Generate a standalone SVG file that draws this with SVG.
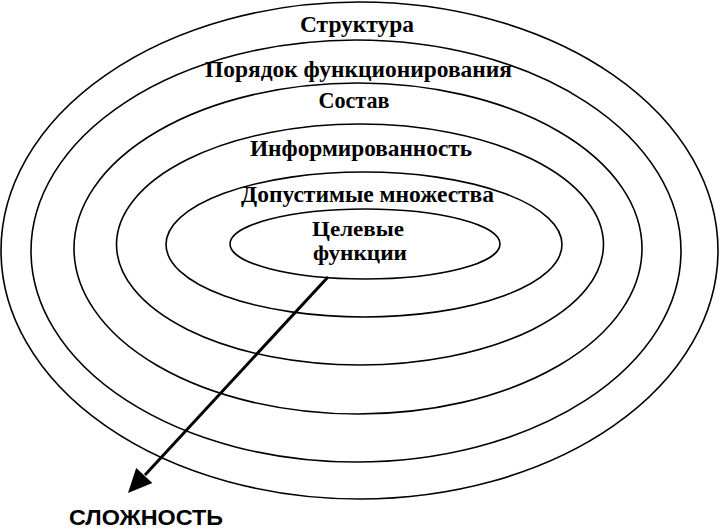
<svg xmlns="http://www.w3.org/2000/svg" width="720" height="530" viewBox="0 0 720 530">
<style>
.ring{fill:none;stroke:#000;stroke-width:1.6}
.lbl{font-family:"Liberation Serif","Times New Roman",serif;font-weight:bold;font-size:23.5px;fill:#000;text-anchor:middle}
.in{font-size:21.5px}
.axis{font-family:"Liberation Sans",Arial,sans-serif;font-weight:bold;font-size:22px;fill:#000}
</style>
<rect width="720" height="530" fill="#fff"/>
<g id="ring-structure"><ellipse class="ring" cx="359.5" cy="250.5" rx="358.5" ry="248.5"/><text class="lbl" x="357" y="32" textLength="114" lengthAdjust="spacingAndGlyphs">Структура</text></g>
<g id="ring-order"><ellipse class="ring" cx="356" cy="251" rx="325" ry="211"/><text class="lbl" x="358.5" y="77" textLength="307" lengthAdjust="spacingAndGlyphs">Порядок функционирования</text></g>
<g id="ring-composition"><ellipse class="ring" cx="358" cy="248.5" rx="284" ry="165.5"/><text class="lbl" x="354" y="108" textLength="71" lengthAdjust="spacingAndGlyphs">Состав</text></g>
<g id="ring-awareness"><ellipse class="ring" cx="360" cy="244.5" rx="243.5" ry="120.5"/><text class="lbl" x="361" y="156" textLength="222" lengthAdjust="spacingAndGlyphs">Информированность</text></g>
<g id="ring-admissible"><ellipse class="ring" cx="364" cy="244.5" rx="198" ry="72.5"/><text class="lbl" x="367.5" y="202" textLength="253" lengthAdjust="spacingAndGlyphs">Допустимые множества</text></g>
<g id="ring-goals"><ellipse class="ring" cx="365" cy="244" rx="135" ry="35"/><text class="lbl in" x="358" y="236" textLength="92" lengthAdjust="spacingAndGlyphs">Целевые</text><text class="lbl in" x="360" y="260" textLength="94" lengthAdjust="spacingAndGlyphs">функции</text></g>
<g id="connectors">
<line x1="328" y1="277" x2="145" y2="475" stroke="#000" stroke-width="3"/>
<polygon points="128,493 136.2,467.9 152.4,482.9" fill="#000"/>
</g>
<g id="axis-label"><text class="axis" x="69" y="525" textLength="154" lengthAdjust="spacingAndGlyphs">СЛОЖНОСТЬ</text></g>
</svg>
